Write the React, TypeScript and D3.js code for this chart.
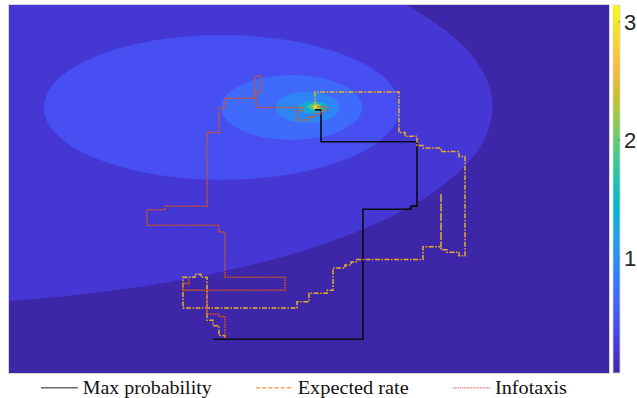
import React from 'react';
import * as d3 from 'd3';

// search domain (grid units)
const xDomain: [number, number] = [0, 100];
const yDomain: [number, number] = [0, 60];

// filled contour levels of the concentration field, one ellipse per level
const levelValues = [0.22, 0.45, 0.68, 0.92, 1.3, 1.9, 2.8];
const levelCx = [-20.4, 35.5, 47.1, 49.8, 50.7, 51.0, 51.2];
const levelCy = [43.4, 43.3, 43.3, 43.3, 43.3, 43.4, 43.4];
const levelRx = [101.0, 29.7, 11.75, 5.33, 2.5, 1.2, 0.55];
const levelRy = [32.3, 11.8, 5.3, 2.53, 1.0, 0.55, 0.3];

// colour range of the field and colourbar ticks
const colorRange: [number, number] = [0.025, 3.144];
const colorbarTicks = [1, 2, 3];

// searcher trajectories, [x, y] in grid units
const maxProbPath: [number, number][] = [
  [34, 5.5], [59, 5.5], [59, 26.7], [67, 26.7], [67, 27.2], [68, 27.2],
  [68, 37.7], [52, 37.7], [52, 42.9], [51, 42.9],
];

const expectedRatePath: [number, number][] = [
  [36, 5.7], [36, 6.1], [35, 6.1], [35, 7.7], [34, 7.7], [34, 8.6], [33, 8.6],
  [33, 15.6], [32, 15.6], [32, 16.1], [31, 16.1], [31, 15.6], [29, 15.6],
  [29, 10.6], [48, 10.6], [48, 11.6], [50, 11.6], [50, 13.0], [53, 13.0],
  [53, 13.5], [54, 13.5], [54, 17.1], [56, 17.1], [56, 17.6], [57, 17.6],
  [57, 18.1], [58, 18.1], [58, 18.5], [69, 18.5], [69, 20.6], [72, 20.6],
  [72, 29.3], [72, 20.1], [73, 20.1], [73, 19.7], [75, 19.7], [75, 19.1],
  [76, 19.1], [76, 35.3], [75, 35.3], [75, 36.1], [72, 36.1], [72, 36.7],
  [69, 36.7], [69, 37.1], [68, 37.1], [68, 38.6], [66, 38.6], [66, 39.2],
  [65, 39.2], [65, 45.8], [51, 45.8], [51, 44.0], [51.2, 43.4],
];

const infotaxisPath: [number, number][] = [
  [36, 5.7], [36, 9.2], [35, 9.2], [35, 9.6], [33, 9.6], [33, 13.5],
  [29, 13.5], [29, 14.6], [30, 14.6], [30, 15.5], [30, 14.6], [29, 14.6],
  [29, 13.5], [46, 13.5], [46, 15.6], [36, 15.6], [36, 23.0], [35, 23.0],
  [35, 24.1], [23, 24.1], [23, 26.6], [26, 26.6], [26, 27.2], [33, 27.2],
  [33, 39.2], [35, 39.2], [35, 43.2], [36, 43.2], [36, 44.8], [41, 44.8],
  [41, 48.4], [42, 48.4], [42, 45.8], [41.2, 45.8], [41.2, 43.3], [49, 43.3],
  [49, 42.8], [48, 42.8], [48, 41.25], [50, 41.25], [50, 41.8], [51, 41.8],
  [51, 42.3], [52, 42.3], [52, 42.9], [53, 42.9], [53, 43.4], [51.2, 43.4],
];

const legendLabels = ['Max probability', 'Expected rate', 'Infotaxis'];

// MATLAB parula, sampled every 4th entry of the 64 colour map
const parula = [
  '#3e26a8', '#4537d5', '#484cf0', '#4563fc', '#327bfc', '#2b91ef', '#20a5e2',
  '#08b4d0', '#19bfb6', '#37c897', '#64cd6f', '#9dc943', '#d1bf27', '#f8ba3d',
  '#fccf30', '#f5e91d', '#f9fa0e',
];

const W = 637;
const H = 398;
const plot = { left: 9, top: 5, right: 609, bottom: 373 };
const bar = { left: 613, right: 620 };

export default function App() {
  const x = d3.scaleLinear().domain(xDomain).range([plot.left, plot.right]);
  const y = d3.scaleLinear().domain(yDomain).range([plot.bottom, plot.top]);
  const cy = d3.scaleLinear().domain(colorRange).range([plot.bottom, plot.top]);

  const stopPos = parula.map((_, i) => (i === parula.length - 1 ? 1 : (i * 4) / 63));
  const color = d3
    .scaleLinear<string>()
    .domain(stopPos.map((t) => colorRange[0] + t * (colorRange[1] - colorRange[0])))
    .range(parula)
    .interpolate(d3.interpolateRgb)
    .clamp(true);

  const line = d3
    .line<[number, number]>()
    .x((d) => x(d[0]))
    .y((d) => y(d[1]));

  const legend = [
    { x1: 41, x2: 78, tx: 82.7, tw: 129, stroke: '#6b6b6b', dash: undefined },
    { x1: 256, x2: 293, tx: 297.7, tw: 111, stroke: '#f4a460', dash: '4,2.2' },
    { x1: 453, x2: 490, tx: 495, tw: 72, stroke: '#f08080', dash: '1,0.8' },
  ];

  return (
    <svg
      width={W}
      height={H}
      style={{ position: 'absolute', left: 0, top: 0, background: '#fff' }}
    >
      <defs>
        <clipPath id="plot-clip">
          <rect
            x={plot.left}
            y={plot.top}
            width={plot.right - plot.left}
            height={plot.bottom - plot.top}
          />
        </clipPath>
        <linearGradient id="parula-grad" x1="0" y1="1" x2="0" y2="0">
          {parula.map((c, i) => (
            <stop key={i} offset={stopPos[i]} stopColor={c} />
          ))}
        </linearGradient>
      </defs>

      {/* contour field */}
      <g clipPath="url(#plot-clip)">
        <rect
          x={plot.left}
          y={plot.top}
          width={plot.right - plot.left}
          height={plot.bottom - plot.top}
          fill={color(colorRange[0])}
        />
        {levelValues.map((v, i) => (
          <ellipse
            key={i}
            cx={x(levelCx[i])}
            cy={y(levelCy[i])}
            rx={x(levelCx[i] + levelRx[i]) - x(levelCx[i])}
            ry={y(levelCy[i]) - y(levelCy[i] + levelRy[i])}
            fill={color(v)}
          />
        ))}

        <path d={line(maxProbPath) || ''} fill="none" stroke="#0b0b12" strokeWidth={1.6} />
        <path
          d={line(expectedRatePath) || ''}
          fill="none"
          stroke="#e9ad2a"
          strokeWidth={1.5}
          strokeDasharray="5,1.5,1.5,1.5"
        />
        <path
          d={line(infotaxisPath) || ''}
          fill="none"
          stroke="#d95319"
          strokeWidth={1.5}
          strokeDasharray="1.5,1"
        />
      </g>
      <rect
        x={plot.left - 0.5}
        y={plot.top - 0.5}
        width={plot.right - plot.left + 1}
        height={plot.bottom - plot.top + 1}
        fill="none"
        stroke="#d4d4d4"
      />

      {/* colourbar */}
      <rect
        x={bar.left}
        y={plot.top}
        width={bar.right - bar.left}
        height={plot.bottom - plot.top}
        fill="url(#parula-grad)"
        stroke="#d4d4d4"
        strokeWidth={0.8}
      />
      {colorbarTicks.map((t) => (
        <g key={t}>
          <line x1={bar.right - 2} x2={bar.right} y1={cy(t)} y2={cy(t)} stroke="#555" strokeWidth={0.6} />
          <text
            x={624}
            y={cy(t)}
            dy="0.36em"
            fontFamily="'Liberation Sans', Arial, sans-serif"
            fontSize={22}
            fill="#262626"
          >
            {t}
          </text>
        </g>
      ))}

      {/* legend */}
      {legend.map((l, i) => (
        <g key={i}>
          <line
            x1={l.x1}
            x2={l.x2}
            y1={387.7}
            y2={387.7}
            stroke={l.stroke}
            strokeWidth={1.5}
            strokeDasharray={l.dash}
          />
          <text
            x={l.tx}
            y={394}
            fontFamily="'Liberation Serif', 'Times New Roman', serif"
            fontSize={19.5}
            fill="#111"
            textLength={l.tw}
            lengthAdjust="spacingAndGlyphs"
          >
            {legendLabels[i]}
          </text>
        </g>
      ))}
    </svg>
  );
}
